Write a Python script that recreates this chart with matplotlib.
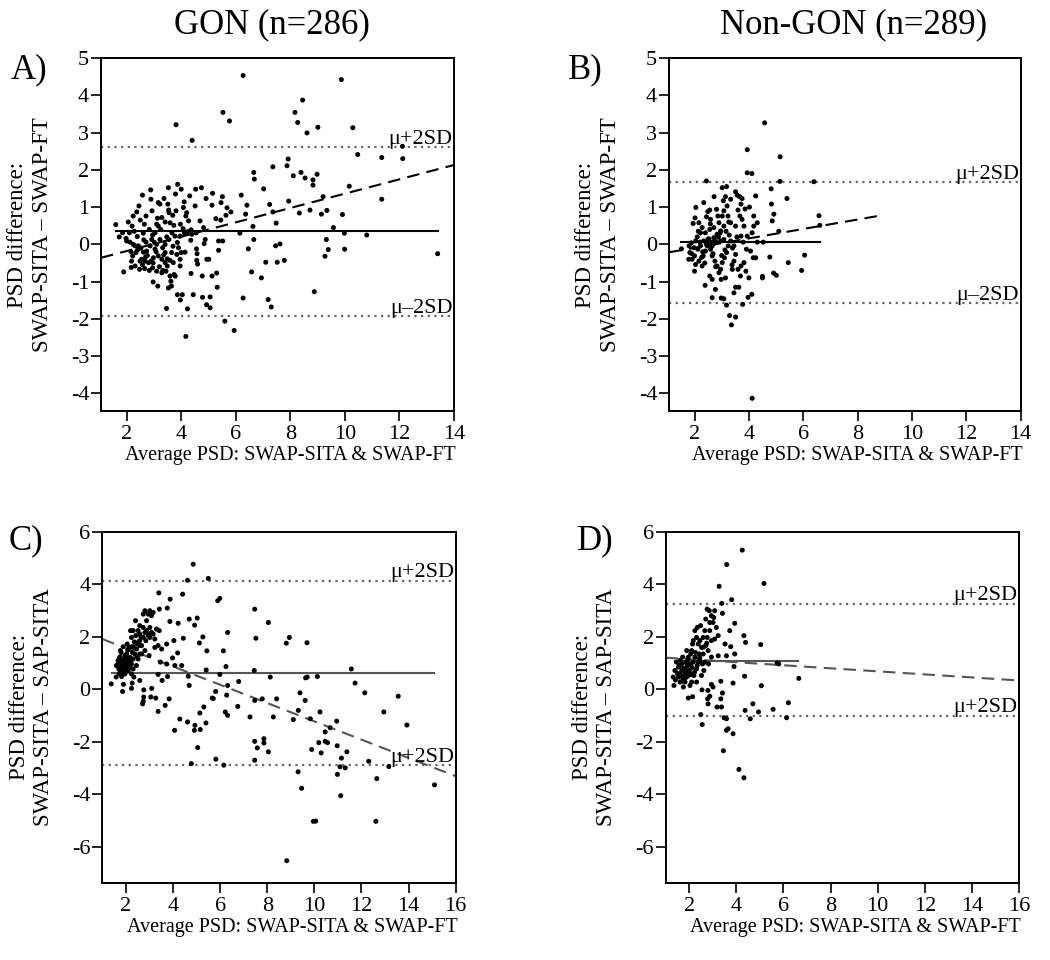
import numpy as np
import matplotlib
matplotlib.use("Agg")
import matplotlib.pyplot as plt

plt.rcParams["font.family"] = ["Liberation Serif", "DejaVu Serif"]

# Panel A: GON, SWAP-SITA vs SWAP-FT (average, difference)
a_x = [6.27, 9.87, 3.81, 4.40, 5.53, 5.77, 8.45, 8.17, 8.27, 8.61, 9.01, 10.29, 10.47, 11.35,
       12.11, 12.12, 11.35, 10.16, 9.20, 9.34, 9.14, 8.72, 8.33, 7.94, 7.88, 7.92, 8.11, 8.39,
       8.54, 8.83, 8.98, 8.83, 7.36, 6.66, 6.68, 7.02, 7.24, 7.36, 7.48, 6.63, 6.36, 6.41, 6.20,
       6.15, 6.66, 6.46, 7.46, 7.62, 7.10, 7.52, 7.78, 6.58, 6.94, 6.27, 7.19, 7.30, 8.88, 9.27,
       9.39, 9.32, 9.58, 9.98, 9.99, 9.91, 10.80, 5.60, 5.94, 4.17, 3.46, 4.23, 3.86, 4.04, 3.97,
       4.44, 4.78, 4.93, 5.06, 5.06, 5.32, 5.30, 5.13, 4.77, 4.36, 3.96, 3.64, 3.14, 2.97, 1.89,
       2.17, 1.60, 13.40,
       2.88, 2.58, 2.45, 2.37, 2.24, 2.06, 2.20, 1.73, 1.98, 2.12, 2.24, 2.31, 2.39, 2.65, 2.71,
       2.93, 2.89, 3.16, 3.22, 3.37, 3.53, 3.51, 3.54, 3.87, 4.00, 3.79, 4.11, 4.31, 4.20, 4.53,
       4.74, 4.51, 4.69, 4.91, 5.15, 5.13, 5.51, 5.46, 5.68, 5.82, 5.64, 5.45, 5.27, 5.52, 5.37,
       5.37, 4.84, 4.88, 4.56, 4.58, 4.94, 5.01, 4.57, 4.60, 4.35, 4.24, 4.36, 4.07, 3.97, 3.73,
       3.66, 3.77, 3.55, 3.41, 3.32, 3.22, 3.10, 3.04, 2.92, 2.86, 2.73, 2.61, 2.55, 2.49, 2.67,
       2.80, 2.89, 2.98, 3.16, 3.29, 3.41, 3.49, 3.59, 3.71, 3.84, 4.00, 4.14, 3.90, 3.65, 2.31,
       2.47, 2.83, 3.29, 3.44, 3.59, 3.74, 3.78, 2.71, 2.61, 2.22, 2.34, 2.43, 2.00, 1.85, 2.10,
       3.16, 3.29, 3.41, 3.59, 3.69, 3.81, 4.08, 4.17, 4.27, 3.96, 4.12, 4.39, 4.55, 4.82, 3.41,
       3.49, 3.04, 3.10, 2.95, 3.10, 3.62, 3.53, 3.96,
       2.52, 2.63, 2.76, 2.95, 3.08, 3.25, 3.36, 3.47, 2.40, 2.28, 2.18, 2.58, 2.70, 3.02, 3.20,
       3.33, 3.70, 3.86, 2.16, 2.50, 2.83, 3.13, 3.55, 2.66, 2.97]
a_y = [4.53, 4.42, 3.21, 2.79, 3.54, 3.31, 3.87, 3.54, 3.27, 2.99, 3.14, 3.13, 2.41, 2.33,
       2.63, 2.30, 1.21, 1.56, 1.28, 0.91, 0.81, 0.92, 0.84, 1.16, 2.11, 2.29, 1.84, 1.93,
       1.78, 1.73, 1.88, 1.59, 2.08, 1.93, 1.75, 1.49, 1.07, 0.87, 0.57, 0.48, 0.81, 1.05, 1.32,
       0.30, 0.13, -0.12, -0.04, 0.01, -0.48, -0.48, -0.43, -0.74, -0.90, -1.44, -1.48, -1.68,
       -1.27, -0.32, -0.14, 0.13, 0.45, 0.30, -0.13, 0.80, 0.25, -2.06, -2.31, -2.47, -1.72,
       -1.73, -1.35, -1.35, -1.49, -1.35, -1.42, -1.62, -1.41, -1.70, -1.15, -0.77, -0.85,
       -0.85, -0.78, -0.58, -1.12, -1.12, -1.01, -0.74, -0.62, 0.53, -0.25,
       1.46, 1.32, 1.03, 0.87, 0.76, 0.60, 0.49, 0.20, 0.16, 0.06, 0.00, -0.04, 0.21, 0.54,
       0.76, 0.90, 1.21, 1.12, 1.08, 1.23, 1.52, 1.08, 0.92, 1.61, 1.48, 1.35, 1.14, 1.30, 0.85,
       1.48, 1.52, 1.03, 0.63, 1.23, 1.37, 1.05, 1.28, 1.12, 0.98, 0.87, 0.78, 0.65, 0.69, 0.09,
       -0.16, 0.09, 0.02, 0.13, -0.12, -0.25, -0.40, -0.40, -0.43, -0.53, 0.11, 0.34, 0.39,
       0.42, 0.54, 0.51, 0.31, 0.22, 0.13, 0.00, -0.09, 0.13, 0.54, 0.31, 0.13, -0.04, -0.18,
       -0.21, -0.40, -0.45, -0.45, -0.49, -0.45, -0.36, -0.31, -0.40, -0.49, -0.58, -0.43,
       -0.49, -0.27, -0.22, -0.21, -0.09, -0.22, -0.58, -0.67, -0.70, -0.76, -0.72, -0.85,
       -0.81, -0.85, 0.06, 0.30, -0.31, -0.22, -0.04, 0.09, 0.31, 0.31, 0.49, 0.72, 0.60, 0.58,
       0.78, 0.90, 0.99, 0.76, 0.63, 0.22, 0.31, 0.27, 0.31, 0.45, -0.22, -0.39, -0.13, 0.00,
       -0.63, -0.72, -0.99, -1.17, -0.40,
       -0.10, 0.12, -0.30, 0.25, -0.20, 0.40, -0.28, 0.20, -0.15, 0.35, -0.45, -0.55, -0.33,
       0.05, -0.60, -0.70, -0.05, 0.05, -0.20, 0.65, 0.40, 0.70, 0.85, -0.65, -0.50]

# Panel B: Non-GON, SWAP-SITA vs SWAP-FT
b_x = [4.58, 3.94, 5.15, 3.94, 4.11, 2.44, 5.14, 6.39, 4.82, 4.25, 5.40, 4.83, 4.92, 4.86,
       6.58, 6.61, 5.10, 4.77, 4.50, 4.50, 4.91, 5.01, 5.45, 6.05, 5.94, 4.12, 3.36, 3.29, 3.51,
       3.18, 2.98, 3.08, 2.65, 2.77, 2.39, 3.77, 3.97, 4.11, 3.51, 3.63, 3.45, 1.52,
       2.05, 2.02, 1.95, 2.16, 2.34, 2.49, 2.56, 2.72, 2.81, 2.86, 2.59, 2.44, 2.28, 2.22, 2.40,
       2.56, 2.71, 2.90, 3.02, 3.08, 3.06, 3.02, 3.18, 3.14, 3.20, 3.33, 3.51, 3.57, 3.66, 3.75,
       3.71, 3.60, 3.67, 3.75, 3.82, 3.51, 3.33, 3.23, 3.08, 2.96, 2.83, 2.71, 2.49, 2.34, 2.20,
       2.04, 1.88, 1.80, 1.83, 1.79, 1.91, 2.00, 2.04, 2.00, 2.16, 2.28, 2.32, 2.40, 2.47, 2.59,
       2.65, 2.75, 2.83, 2.90, 2.96, 3.02, 3.10, 3.18, 3.24, 3.33, 3.45, 3.51, 3.45, 3.39, 3.14,
       2.98, 2.65, 2.56, 3.60, 3.69, 3.71, 3.82, 3.89, 4.00, 4.16, 4.25, 4.06, 3.91, 3.79, 3.71,
       3.94, 4.12, 4.18, 4.31, 4.18, 4.31, 4.53, 2.77, 2.96, 3.08, 2.62, 2.44, 2.22, 2.12, 1.98,
       2.10, 2.30, 2.52, 2.68, 2.88, 3.12, 3.28, 3.40, 2.26, 2.46, 2.64, 2.94, 3.16, 3.56, 2.14,
       2.38, 2.58, 2.78, 3.00, 3.26, 1.90, 2.70, 3.38, 3.86, 4.02]
b_y = [3.26, 2.54, 2.35, 1.92, 1.90, 1.70, 1.69, 1.68, 1.49, 1.30, 1.23, 1.08, 0.81, 0.63,
       0.77, 0.51, 0.35, -0.34, -0.86, -0.90, -0.77, -0.83, -0.49, -0.29, -0.70, -4.13, -2.16,
       -1.91, -1.95, -1.63, -1.44, -1.46, -1.43, -1.21, -1.10, -1.61, -1.42, -1.34, -1.15,
       -1.15, -1.30, -0.12,
       0.99, 0.71, 0.56, 0.58, 1.12, 0.88, 0.92, 1.28, 0.94, 0.76, 0.67, 0.74, 0.45, 0.31, 0.31,
       0.40, 0.45, 0.58, 0.76, 0.90, 1.17, 1.52, 1.55, 1.28, 1.03, 1.21, 1.41, 1.32, 1.28, 1.23,
       1.08, 0.92, 0.76, 0.67, 0.49, 0.49, 0.58, 0.76, 0.49, 0.36, 0.27, 0.18, 0.13, 0.09, 0.06,
       0.09, 0.04, -0.04, -0.22, -0.40, -0.40, -0.31, -0.54, -0.72, -0.45, -0.58, -0.31, -0.18,
       -0.04, -0.13, -0.31, -0.45, -0.58, -0.76, -0.67, -0.49, -0.36, -0.22, -0.04, 0.09, -0.04,
       -0.27, -0.45, -0.67, -0.90, -0.94, -0.94, -0.85, -0.67, -0.85, -0.58, -0.49, -0.72,
       -0.90, -0.36, -0.36, -0.18, -0.13, 0.06, 0.22, 0.22, 0.31, 0.49, 0.58, 0.76, 0.06, 0.06,
       0.09, 0.09, 0.13, 0.06, 0.00, -0.04, -0.13, -0.09,
       0.20, -0.20, 0.15, -0.25, 0.20, -0.15, 0.25, -0.10, -0.35, 0.05, -0.05, 0.30, 0.35,
       0.20, 0.35, -0.50, 0.55, -0.60, -0.30, 0.60, -0.25, 0.02, -0.55, 0.95, 1.00]

# Panel C: GON, SWAP-SITA vs SAP-SITA
c_x = [4.86, 4.62, 5.50, 3.40, 4.41, 3.88, 5.99, 5.90, 7.47, 8.05, 8.94, 8.81, 9.69, 7.52,
       6.32, 5.27, 5.12, 5.44, 6.14, 5.03, 4.69, 4.92, 4.22, 4.44, 4.04, 3.87, 3.76, 3.42, 6.25,
       5.41, 5.99, 6.32, 6.79, 7.45, 8.13, 8.40, 7.79, 7.47, 6.75, 6.28, 5.81, 5.67, 5.71, 6.22,
       6.32, 5.31, 5.14, 5.40, 4.93, 4.91, 5.16, 4.62, 4.29, 4.07, 5.05, 4.78, 5.82, 6.16, 7.47,
       7.58, 7.86, 7.86, 8.05, 7.47, 7.27, 8.26, 9.11, 9.32, 9.39, 9.61, 9.63, 9.70, 10.13, 9.83,
       10.24, 10.95, 10.67, 10.46, 10.19, 10.46, 10.56, 9.89, 10.29, 10.97, 11.38, 11.15, 11.09,
       11.31, 10.98, 11.12, 9.31, 9.46, 9.96, 10.06, 8.83, 11.57, 11.73, 12.14, 12.95, 13.56,
       13.93, 12.31, 13.16, 12.65, 12.61, 15.10, 4.20, 4.37, 4.08, 3.77, 3.54, 4.65, 4.69, 3.84,
       3.67, 3.37, 3.27, 3.06, 3.10, 2.76, 2.76, 2.74, 2.71, 2.24, 2.27, 2.59, 1.86, 1.90, 1.38,
       1.59, 1.82, 3.37, 3.47, 3.73, 3.52, 3.73, 3.98, 2.99, 3.23, 3.37, 3.30, 3.42, 3.09, 2.99,
       1.60, 1.67, 1.75, 1.82, 1.89, 1.96, 2.03, 2.10, 2.17, 2.24, 2.31, 2.38, 2.45, 2.42, 2.52,
       2.59, 2.67, 2.74, 2.81, 2.88, 2.95, 3.02, 2.88, 2.95, 2.81, 3.02, 3.09, 3.16, 2.74, 2.59,
       2.41, 2.20, 2.31, 2.24, 2.06, 2.14, 1.89, 1.77, 1.67, 1.75, 1.82, 1.96, 2.10, 2.31, 2.45,
       2.52, 2.67, 2.81, 2.59, 2.24, 2.34, 1.89, 2.03, 2.17, 1.96, 1.82, 1.72, 2.59, 2.52, 2.74,
       3.02, 3.16, 3.23, 2.85, 2.31, 2.42, 2.59,
       1.70, 1.78, 1.86, 1.93, 2.00, 2.07, 2.14, 2.21, 2.28, 1.74, 1.84, 1.98, 2.12, 2.26, 1.80,
       1.94, 2.08, 2.36, 2.48, 2.64]
c_y = [4.76, 4.15, 4.22, 3.67, 3.62, 3.43, 3.46, 3.37, 3.05, 2.54, 1.97, 1.75, 1.77, 1.94,
       2.16, 1.99, 1.76, 1.46, 1.46, 2.71, 2.67, 2.44, 2.51, 1.94, 1.85, 2.58, 3.09, 3.05, 0.86,
       0.73, 0.56, 0.14, 0.29, 0.71, 0.46, -0.37, -0.37, -0.43, -0.66, -0.23, -0.09, -0.34,
       -0.36, -0.87, -1.00, -0.68, -0.91, -1.29, -1.38, -1.57, -1.54, -1.25, -1.14, -1.57,
       -2.23, -2.84, -2.67, -2.90, -1.99, -2.24, -1.89, -2.05, -2.39, -2.71, -1.06, -1.06,
       -1.16, -0.81, -0.14, -0.43, 0.43, 0.46, 0.48, -1.13, -0.87, -1.22, -1.47, -1.63, -2.04,
       -1.99, -2.04, -2.30, -2.43, -2.16, -2.39, -2.63, -2.96, -3.00, -3.25, -4.06, -3.15,
       -3.78, -5.04, -5.03, -6.54, 0.77, 0.23, -0.14, -0.87, -0.27, -1.37, -2.75, -2.95, -3.41,
       -5.04, -3.65, 1.38, 0.90, 0.90, 0.48, 0.33, 0.49, 0.14, -0.37, -0.62, -0.85, -0.34,
       -0.30, 0.03, -0.03, -0.30, -0.46, -0.56, 0.03, 0.23, 0.33, -0.09, 0.18, 0.20, 0.46, 0.48,
       0.56, 1.03, 0.96, 1.53, 1.72, 1.19, 1.28, 1.59, 1.66, 2.29, 2.23, 2.16, 2.10,
       0.90, 1.09, 1.22, 1.03, 0.84, 1.15, 1.34, 1.03, 1.22, 0.96, 1.15, 1.34, 1.53, 1.72, 1.78,
       1.85, 1.66, 1.97, 2.16, 2.23, 2.04, 1.97, 2.61, 2.86, 2.99, 2.99, 2.80, 2.92, 2.86, 2.42,
       2.61, 2.23, 2.23, 1.97, 1.72, 1.59, 1.62, 1.47, 0.96, 0.71, 0.65, 0.58, 0.71, 0.77, 0.90,
       1.15, 1.34, 1.47, 1.34, 0.58, 0.46, 0.96, 0.84, 0.90, 1.28, 0.84, 0.58, 2.10, 2.23, 2.35,
       2.35, 2.10, 1.91, 1.85, 1.59, 2.04, 1.66,
       0.78, 1.00, 1.12, 0.88, 1.05, 0.92, 1.18, 1.08, 1.40, 1.20, 0.74, 1.25, 0.80, 1.62, 1.40,
       0.70, 1.48, 1.80, 1.25, 2.00]

# Panel D: Non-GON, SWAP-SITA vs SAP-SITA
d_x = [4.25, 3.59, 5.17, 3.27, 3.80, 3.38, 3.93, 3.72, 3.41, 4.32, 4.39, 5.03, 3.52, 3.76,
       3.93, 3.58, 3.23, 3.90, 5.73, 5.80, 6.65, 4.35, 5.06, 3.86, 3.34, 3.41, 3.34, 3.18, 3.37,
       2.79, 2.87, 2.78, 2.80, 2.54, 2.94, 3.01, 4.37, 4.70, 4.94, 4.59, 5.56, 6.21, 6.13, 2.49,
       2.55, 3.48, 3.58, 3.65, 3.58, 3.86, 3.45, 4.11, 4.32, 2.14, 1.96, 1.75, 1.35, 1.32,
       1.39, 1.46, 1.54, 1.61, 1.68, 1.72, 1.82, 1.86, 1.89, 1.96, 2.00, 2.06, 2.10, 2.14, 2.17,
       2.24, 2.31, 2.38, 2.42, 2.45, 2.52, 2.59, 2.66, 2.70, 2.76, 2.85, 2.94, 3.01, 3.08, 3.15,
       3.23, 2.87, 2.76, 2.70, 2.59, 2.56, 2.66, 2.31, 2.20, 2.10, 1.82, 1.75, 1.61, 1.41, 1.96,
       2.38, 2.24, 2.45, 2.34, 2.48, 2.87, 3.04, 2.94, 3.08, 2.80, 2.94, 2.06, 1.89, 1.82, 2.03,
       2.31, 2.52, 1.68, 1.54, 2.17, 2.62, 2.82,
       1.50, 1.58, 1.65, 1.76, 1.84, 1.92, 2.02, 2.12, 2.22, 2.34, 1.62, 1.78, 1.94, 2.08, 2.26,
       2.44, 2.60, 2.74, 1.70, 1.88]
d_y = [5.30, 4.75, 4.03, 3.92, 3.41, 3.27, 2.51, 2.23, 2.89, 2.04, 1.78, 1.70, 1.72, 1.62,
       1.34, 1.27, 1.27, 0.86, 1.00, 0.96, 0.41, 0.49, 0.13, 0.23, 0.30, -0.15, -0.37, -0.68,
       -0.68, -0.05, -0.27, -0.37, -0.56, -0.03, 0.18, 0.08, -0.81, -0.56, -0.87, -1.13, -0.77,
       -0.52, -1.09, -0.97, -1.35, -1.09, -1.13, -1.51, -1.57, -1.70, -2.35, -3.06, -3.38,
       -0.29, -0.34, 0.08, 0.14, 0.46,
       0.71, 1.03, 0.84, 0.58, 0.96, 1.22, 0.77, 1.03, 0.46, 1.22, 0.71, 0.96, 1.47, 1.72, 1.85,
       2.23, 1.97, 1.72, 1.34, 1.09, 1.59, 1.97, 2.23, 2.67, 3.05, 2.99, 2.80, 2.54, 2.99, 2.35,
       2.04, 2.23, 1.97, 1.66, 1.34, 0.96, 1.03, 0.77, 0.52, 0.27, 0.27, 0.39, 0.27, 0.35, 0.52,
       1.03, 1.22, 1.85, 2.35, 2.42, 2.54, 2.73, 1.85, 1.91, 1.47, 1.22, 1.34, 1.47, 0.58, 0.14,
       0.27, 0.52, 0.71, 0.46, 1.03, 0.71, 0.96,
       0.60, 0.90, 0.50, 0.80, 0.62, 0.88, 0.60, 0.82, 0.64, 0.90, 1.10, 0.40, 1.15, 0.55, 1.40,
       1.20, 1.60, 1.75, 0.30, 1.00]

# Summary lines: mean, +/-2SD limits and regression (start, end) per panel
means = [0.35, 0.05, 0.62, 1.08]
mean_span = [(1.6, 13.4), (1.5, 6.6), (1.4, 15.1), (1.4, 6.6)]
upper = [2.62, 1.66, 4.13, 3.24]
lower = [-1.93, -1.57, -2.91, -1.03]
upper_text = ["\u03bc+2SD", "\u03bc+2SD", "\u03bc+2SD", "\u03bc+2SD"]
lower_text = ["\u03bc\u20132SD", "\u03bc\u20132SD", "\u03bc+2SD", "\u03bc+2SD"]
reg_x = [(1.06, 14.0), (1.08, 8.9), (1.0, 16.0), (1.0, 16.0)]
reg_y = [(-0.36, 2.13), (-0.21, 0.78), (1.91, -3.32), (1.20, 0.33)]

panel_x = [a_x, b_x, c_x, d_x]
panel_y = [a_y, b_y, c_y, d_y]
letters = ["A)", "B)", "C)", "D)"]
ylabels = ["PSD difference:\nSWAP-SITA \u2013 SWAP-FT",
           "PSD difference:\nSWAP-SITA \u2013 SWAP-FT",
           "PSD difference:\nSWAP-SITA \u2013 SAP-SITA",
           "PSD difference:\nSWAP-SITA \u2013 SAP-SITA"]
xlabel = "Average PSD: SWAP-SITA & SWAP-FT"

fig = plt.figure(figsize=(10.5, 9.6), dpi=100)
rects = [[0.0962, 0.5719, 0.3362, 0.3677],
         [0.6371, 0.5719, 0.3350, 0.3677],
         [0.0974, 0.0805, 0.3366, 0.3656],
         [0.6340, 0.0805, 0.3365, 0.3656]]
letter_pos = [(0.010, 0.927), (0.541, 0.927), (0.008, 0.437), (0.549, 0.437)]

for i in range(4):
    ax = fig.add_axes(rects[i])
    top = i < 2
    line_col = "black" if top else "#555555"

    ax.scatter(panel_x[i], panel_y[i], s=13, color="black", edgecolors="none", zorder=3)
    ax.plot(mean_span[i], [means[i], means[i]], color=line_col, lw=1.5, zorder=2)
    ax.plot(reg_x[i], reg_y[i], color=line_col, lw=1.5, dashes=(6, 3.5), zorder=2)
    ax.axhline(upper[i], color="#666666", lw=1.6, ls=(0, (1, 2.0)), zorder=1)
    ax.axhline(lower[i], color="#666666", lw=1.6, ls=(0, (1, 2.0)), zorder=1)
    ax.text(0.995, upper[i] - 0.05, upper_text[i], transform=ax.get_yaxis_transform(),
            ha="right", va="bottom", fontsize=16)
    ax.text(0.995, lower[i] - 0.05, lower_text[i], transform=ax.get_yaxis_transform(),
            ha="right", va="bottom", fontsize=16)

    if top:
        ax.set_xlim(1.06, 14)
        ax.set_ylim(-4.47, 5)
        ax.set_xticks(range(2, 15, 2))
        ax.set_yticks(range(-4, 6))
    else:
        ax.set_xlim(1.0, 16)
        ax.set_ylim(-7.38, 6)
        ax.set_xticks(range(2, 17, 2))
        ax.set_yticks(range(-6, 7, 2))

    ax.tick_params(direction="out", length=7, width=1.2, labelsize=16, pad=1.5)
    ax.tick_params(axis="x", pad=3)
    ax.set_xticklabels([str(t) for t in ax.get_xticks()])
    ax.set_yticklabels([str(t) for t in ax.get_yticks()])
    for sp in ax.spines.values():
        sp.set_linewidth(1.4)
    ax.set_xlabel(xlabel, fontsize=14.5)
    ax.xaxis.set_label_coords(0.537, -0.10)
    ax.set_ylabel(ylabels[i], fontsize=16.5, labelpad=13, linespacing=1.2)

    fig.text(letter_pos[i][0], letter_pos[i][1], letters[i], fontsize=25, va="center")

fig.text(0.259, 0.974, "GON (n=286)", fontsize=25, ha="center", va="center")
fig.text(0.813, 0.974, "Non-GON (n=289)", fontsize=25, ha="center", va="center")

fig.savefig("out.png", dpi=100)
